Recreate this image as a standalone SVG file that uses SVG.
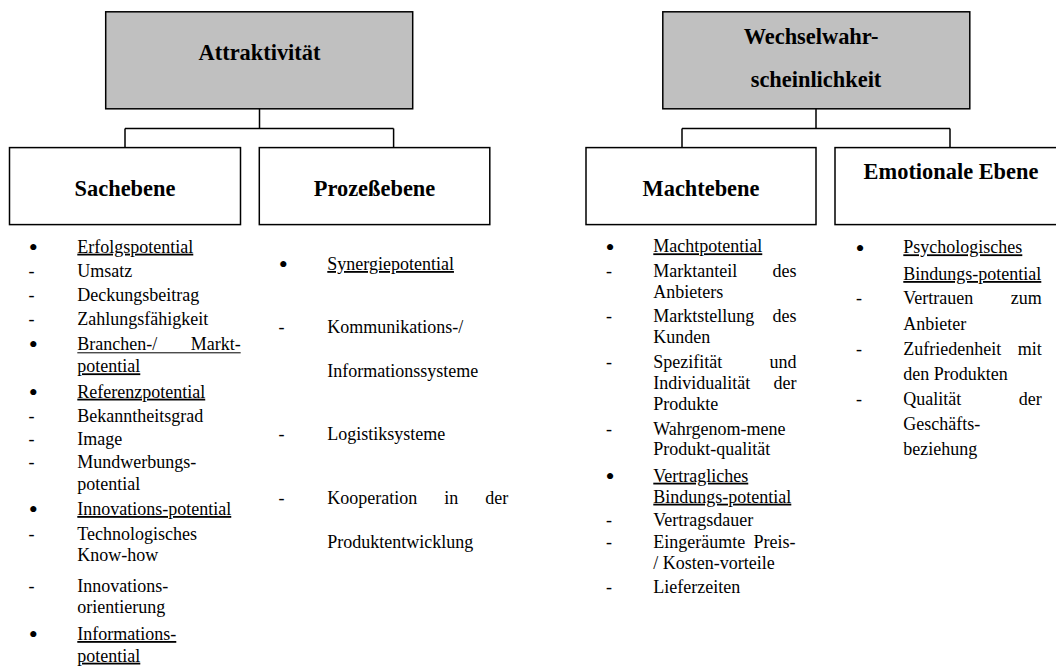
<svg xmlns="http://www.w3.org/2000/svg" width="1056" height="666" viewBox="0 0 1056 666">
<style>
.box{fill:#fff;stroke:#000;stroke-width:1.5}
.top{fill:#c0c0c0;stroke:#000;stroke-width:1.5}
.conn{fill:none;stroke:#000;stroke-width:1.5}
.h{font-family:"Liberation Serif","Times New Roman",serif;font-weight:bold;font-size:22.4px;text-anchor:middle;fill:#000}
.t{font-family:"Liberation Serif","Times New Roman",serif;font-size:18px;fill:#000}
.b{font-family:"Liberation Serif","Times New Roman",serif;font-size:26px;text-anchor:middle;fill:#000}
.u{text-decoration:underline}
.e{text-anchor:end}
.ul{stroke:#000;stroke-width:1}
</style>
<rect width="1056" height="666" fill="#fff"/>
<g id="connectors">
<path class="conn" d="M259.5,108.8V128.4M125,128.4H393.6M125,128.4V147.6M393.6,128.4V147.6"/>
<path class="conn" d="M816,108.8V128.4M682,128.4H950M682,128.4V147.6M950,128.4V147.6"/>
</g>
<g id="attraktivitaet">
<rect class="top" x="105.7" y="11.8" width="307" height="97"/>
<text class="h" x="259.5" y="60">Attraktivität</text>
</g>
<g id="sachebene">
<rect class="box" x="9.5" y="147.6" width="231" height="77"/>
<text class="h" x="125" y="196">Sachebene</text>
</g>
<g id="prozessebene">
<rect class="box" x="259.3" y="147.6" width="230.5" height="77"/>
<text class="h" x="374.5" y="196">Prozeßebene</text>
</g>
<g id="wechselwahrscheinlichkeit">
<rect class="top" x="662.8" y="11.8" width="307" height="97"/>
<text class="h" x="811" y="44">Wechselwahr-</text>
<text class="h" x="816" y="87">scheinlichkeit</text>
</g>
<g id="machtebene">
<rect class="box" x="586" y="147.6" width="230" height="77"/>
<text class="h" x="701" y="196">Machtebene</text>
</g>
<g id="emotionale-ebene">
<rect class="box" x="835" y="147.6" width="240" height="77"/>
<text class="h" x="951" y="179">Emotionale Ebene</text>
</g>
<g id="list-sachebene">
<text class="b" x="33.3" y="256">•</text><text class="t u" x="77.3" y="252.7">Erfolgspotential</text>
<text class="t" x="28.5" y="276.7">-</text><text class="t" x="77.3" y="276.7">Umsatz</text>
<text class="t" x="28.5" y="301">-</text><text class="t" x="77.3" y="301">Deckungsbeitrag</text>
<text class="t" x="28.5" y="325">-</text><text class="t" x="77.3" y="325">Zahlungsfähigkeit</text>
<text class="b" x="33.3" y="353.3">•</text><text class="t" x="77.3" y="350">Branchen-/</text><text class="t e" x="240.7" y="350">Markt-</text>
<line class="ul" x1="77.3" y1="352.8" x2="240.7" y2="352.8"/>
<text class="t u" x="77.3" y="372.3">potential</text>
<text class="b" x="33.3" y="401">•</text><text class="t u" x="77.3" y="397.7">Referenzpotential</text>
<text class="t" x="28.5" y="421.7">-</text><text class="t" x="77.3" y="421.7">Bekanntheitsgrad</text>
<text class="t" x="28.5" y="445">-</text><text class="t" x="77.3" y="445">Image</text>
<text class="t" x="28.5" y="468.3">-</text><text class="t" x="77.3" y="468.3">Mundwerbungs-</text>
<text class="t" x="77.3" y="490">potential</text>
<text class="b" x="33.3" y="518.3">•</text><text class="t u" x="77.3" y="515">Innovations-potential</text>
<text class="t" x="28.5" y="540">-</text><text class="t" x="77.3" y="540">Technologisches</text>
<text class="t" x="77.3" y="560.7">Know-how</text>
<text class="t" x="28.5" y="591.7">-</text><text class="t" x="77.3" y="591.7">Innovations-</text>
<text class="t" x="77.3" y="613.3">orientierung</text>
<text class="b" x="33.3" y="643.3">•</text><text class="t u" x="77.3" y="640">Informations-</text>
<text class="t u" x="77.3" y="661.7">potential</text>
</g>
<g id="list-prozessebene">
<text class="b" x="283.3" y="273.3">•</text><text class="t u" x="327.3" y="270">Synergiepotential</text>
<text class="t" x="278.5" y="333.3">-</text><text class="t" x="327.3" y="333.3">Kommunikations-/</text>
<text class="t" x="327.3" y="376.7">Informationssysteme</text>
<text class="t" x="278.5" y="440">-</text><text class="t" x="327.3" y="440">Logistiksysteme</text>
<text class="t" x="278.5" y="504.3">-</text><text class="t" x="327.3" y="504.3">Kooperation</text><text class="t" x="444.3" y="504.3">in</text><text class="t e" x="508.3" y="504.3">der</text>
<text class="t" x="327.3" y="547.7">Produktentwicklung</text>
</g>
<g id="list-machtebene">
<text class="b" x="610" y="255.6">•</text><text class="t u" x="653.3" y="252.3">Machtpotential</text>
<text class="t" x="606" y="276.7">-</text><text class="t" x="653.3" y="276.7">Marktanteil</text><text class="t e" x="796.5" y="276.7">des</text>
<text class="t" x="653.3" y="298.3">Anbieters</text>
<text class="t" x="606" y="321.7">-</text><text class="t" x="653.3" y="321.7">Marktstellung</text><text class="t e" x="796.5" y="321.7">des</text>
<text class="t" x="653.3" y="343.3">Kunden</text>
<text class="t" x="606" y="367.7">-</text><text class="t" x="653.3" y="367.7">Spezifität</text><text class="t e" x="796.5" y="367.7">und</text>
<text class="t" x="653.3" y="389.3">Individualität</text><text class="t e" x="796.5" y="389.3">der</text>
<text class="t" x="653.3" y="410">Produkte</text>
<text class="t" x="606" y="435">-</text><text class="t" x="653.3" y="435">Wahrgenom-mene</text>
<text class="t" x="653.3" y="455">Produkt-qualität</text>
<text class="b" x="610" y="485">•</text><text class="t u" x="653.3" y="481.7">Vertragliches</text>
<text class="t u" x="653.3" y="502.7">Bindungs-potential</text>
<text class="t" x="606" y="526">-</text><text class="t" x="653.3" y="526">Vertragsdauer</text>
<text class="t" x="606" y="548.3">-</text><text class="t" x="653.3" y="548.3">Eingeräumte</text><text class="t e" x="795.5" y="548.3">Preis-</text>
<text class="t" x="653.3" y="569.3">/ Kosten-vorteile</text>
<text class="t" x="606" y="593.3">-</text><text class="t" x="653.3" y="593.3">Lieferzeiten</text>
</g>
<g id="list-emotionale-ebene">
<text class="b" x="860" y="256.6">•</text><text class="t u" x="903.3" y="253.3">Psychologisches</text>
<text class="t u" x="903.3" y="280">Bindungs-potential</text>
<text class="t" x="856" y="304.3">-</text><text class="t" x="903.3" y="304.3">Vertrauen</text><text class="t e" x="1041.7" y="304.3">zum</text>
<text class="t" x="903.3" y="330">Anbieter</text>
<text class="t" x="856" y="355">-</text><text class="t" x="903.3" y="355">Zufriedenheit</text><text class="t e" x="1041.7" y="355">mit</text>
<text class="t" x="903.3" y="380">den Produkten</text>
<text class="t" x="856" y="405">-</text><text class="t" x="903.3" y="405">Qualität</text><text class="t e" x="1041.7" y="405">der</text>
<text class="t" x="903.3" y="430">Geschäfts-</text>
<text class="t" x="903.3" y="455">beziehung</text>
</g>
</svg>
